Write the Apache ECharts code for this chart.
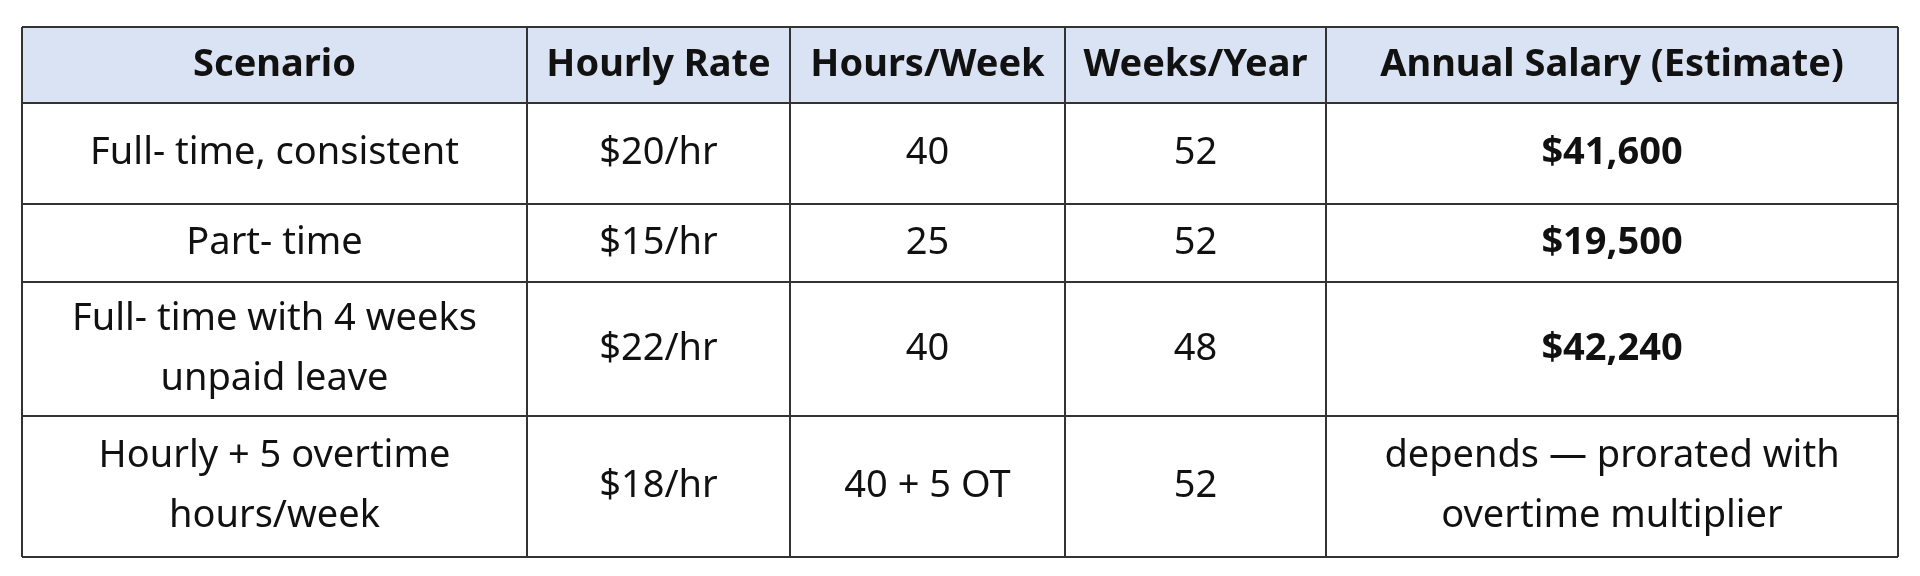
<!DOCTYPE html>
<html>
<head>
<meta charset="utf-8">
<script src="https://cdn.jsdelivr.net/npm/echarts@6/dist/echarts.min.js"></script>
<style>html,body{margin:0;background:#fff}#chart{width:1920px;height:576px}</style>
</head>
<body>
<div id="chart"></div>
<script>
// table content
var headers = ['Scenario', 'Hourly Rate', 'Hours/Week', 'Weeks/Year', 'Annual Salary (Estimate)'];
var scenarios = ['Full- time, consistent', 'Part- time', 'Full- time with 4 weeks\nunpaid leave', 'Hourly + 5 overtime\nhours/week'];
var rates = ['$20/hr', '$15/hr', '$22/hr', '$18/hr'];
var hoursPerWeek = ['40', '25', '40', '40 + 5 OT'];
var weeksPerYear = ['52', '52', '48', '52'];
var salaries = ['$41,600', '$19,500', '$42,240', 'depends \u2014 prorated with\novertime multiplier'];
var boldSalary = [true, true, true, false];

// layout
var colX = [22, 527, 790, 1065, 1326, 1898];
var rowY = [27, 103, 204, 282, 416, 557];
var font = '"Noto Sans", sans-serif';

var chart = echarts.init(document.getElementById('chart'));
var els = [];
els.push({ type: 'rect', shape: { x: colX[0], y: rowY[0], width: colX[5] - colX[0], height: rowY[1] - rowY[0] }, style: { fill: '#dae3f3' } });

function cell(text, c, r, bold) {
  els.push({
    type: 'text',
    x: (colX[c] + colX[c + 1]) / 2,
    y: (rowY[r] + rowY[r + 1]) / 2,
    style: {
      text: text, fill: '#111', font: (bold ? 'bold ' : '') + '38px ' + font,
      align: 'center', verticalAlign: 'middle', lineHeight: 60
    }
  });
}
headers.forEach(function (h, c) { cell(h, c, 0, true); });
scenarios.forEach(function (s, i) {
  cell(s, 0, i + 1);
  cell(rates[i], 1, i + 1);
  cell(hoursPerWeek[i], 2, i + 1);
  cell(weeksPerYear[i], 3, i + 1);
  cell(salaries[i], 4, i + 1, boldSalary[i]);
});
rowY.forEach(function (y) {
  els.push({ type: 'line', shape: { x1: colX[0], y1: y, x2: colX[5], y2: y }, style: { stroke: '#333', lineWidth: 2 } });
});
colX.forEach(function (x) {
  els.push({ type: 'line', shape: { x1: x, y1: rowY[0], x2: x, y2: rowY[5] }, style: { stroke: '#333', lineWidth: 2 } });
});

chart.setOption({ backgroundColor: '#fff', graphic: { elements: els } });
</script>
</body>
</html>
